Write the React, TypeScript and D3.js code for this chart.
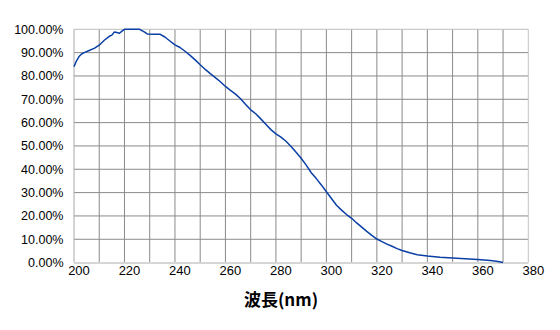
import React from "react";
import * as d3 from "d3";

const wavelengths = [
  200, 201, 202, 203, 204, 206, 208, 210, 212, 214, 215, 216, 217, 218, 219, 220,
  222, 224, 226, 228, 229, 232, 234, 236, 238, 240, 242, 244, 246, 248, 250, 252,
  254, 256, 258, 260, 262, 264, 266, 268, 270, 272, 274, 276, 278, 280, 282, 284,
  286, 288, 290, 292, 294, 296, 298, 300, 302, 304, 306, 308, 310, 312, 314, 316,
  318, 320, 322, 324, 326, 328, 330, 333, 336, 340, 345, 350, 355, 360, 365, 368, 370,
];
const transmittance = [
  84, 86.5, 88.3, 89.4, 90, 90.9, 91.8, 93.2, 95.3, 97, 97.5, 98.8, 98.6, 98.3, 99.2, 100,
  100, 100, 100, 98.8, 98, 97.9, 97.9, 96.7, 95, 93.3, 92.2, 90.6, 88.8, 86.9, 84.8, 82.8,
  81, 79.3, 77.5, 75.5, 73.8, 72.2, 70.2, 67.8, 65.5, 63.8, 61.6, 59.3, 57, 55.2, 53.8, 52,
  49.8, 47.3, 44.7, 41.8, 38.5, 36, 33.3, 30.4, 27.5, 24.6, 22.5, 20.6, 19, 17, 15.2, 13.4,
  11.7, 10.1, 9, 7.9, 7, 6, 5.2, 4.2, 3.4, 2.8, 2.3, 2.0, 1.7, 1.3, 0.9, 0.5, 0,
];
const xLabelTicks = [200, 220, 240, 260, 280, 300, 320, 340, 360, 380];
const xGridTicks = d3.range(210, 380, 10);
const yTicks = [0, 10, 20, 30, 40, 50, 60, 70, 80, 90, 100];
const xTitle = "波長(nm)";

export default function App() {
  const W = 560;
  const H = 330;
  const left = 74;
  const right = 528.3;
  const top = 29.3;
  const bottom = 262.6;
  const x = d3.scaleLinear().domain([200, 380]).range([left, right]);
  const y = d3.scaleLinear().domain([0, 100]).range([bottom, top]);
  const data = wavelengths.map((w, i) => [w, transmittance[i]] as [number, number]);
  const line = d3
    .line<[number, number]>()
    .x((d) => x(d[0]))
    .y((d) => y(d[1]));
  const font = "'Liberation Sans', Arial, sans-serif";
  return (
    <svg
      width={W}
      height={H}
      style={{ position: "absolute", left: 0, top: 0, background: "#fff" }}
    >
      {yTicks
        .filter((t) => t > 0 && t < 100)
        .map((t) => (
          <line key={"hy" + t} x1={left} x2={right} y1={y(t)} y2={y(t)} stroke="#8a8a8a" strokeWidth={1} />
        ))}
      {xGridTicks.map((t) => (
        <line key={"gx" + t} x1={x(t)} x2={x(t)} y1={top} y2={bottom} stroke="#8a8a8a" strokeWidth={1} />
      ))}
      <line x1={left} x2={right} y1={top} y2={top} stroke="#bdbdbd" strokeWidth={1} />
      <line x1={right} x2={right} y1={top} y2={bottom} stroke="#c4c4c4" strokeWidth={1} />
      <line x1={left} x2={left} y1={top} y2={bottom} stroke="#a8a8a8" strokeWidth={1} />
      <line x1={left} x2={right} y1={bottom + 0.5} y2={bottom + 0.5} stroke="#d6d6d6" strokeWidth={2} />
      <path d={line(data) ?? ""} fill="none" stroke="#0a3fa6" strokeWidth={1.5} strokeLinejoin="round" />
      {yTicks.map((t) => (
        <text
          key={"ly" + t}
          x={63.5}
          y={y(t)}
          dy="0.36em"
          textAnchor="end"
          fontFamily={font}
          fontSize={12.5}
          fill="#000"
        >
          {t.toFixed(2) + "%"}
        </text>
      ))}
      {xLabelTicks.map((t) => (
        <text
          key={"lx" + t}
          x={x(t) + 5}
          y={275}
          textAnchor="middle"
          fontFamily={font}
          fontSize={13}
          fill="#000"
        >
          {t}
        </text>
      ))}
      <text
        x={281}
        y={306}
        textAnchor="middle"
        fontFamily="'Noto Sans CJK JP', sans-serif"
        fontWeight="bold"
        fontSize={17}
        fill="#000"
      >
        {xTitle}
      </text>
    </svg>
  );
}
